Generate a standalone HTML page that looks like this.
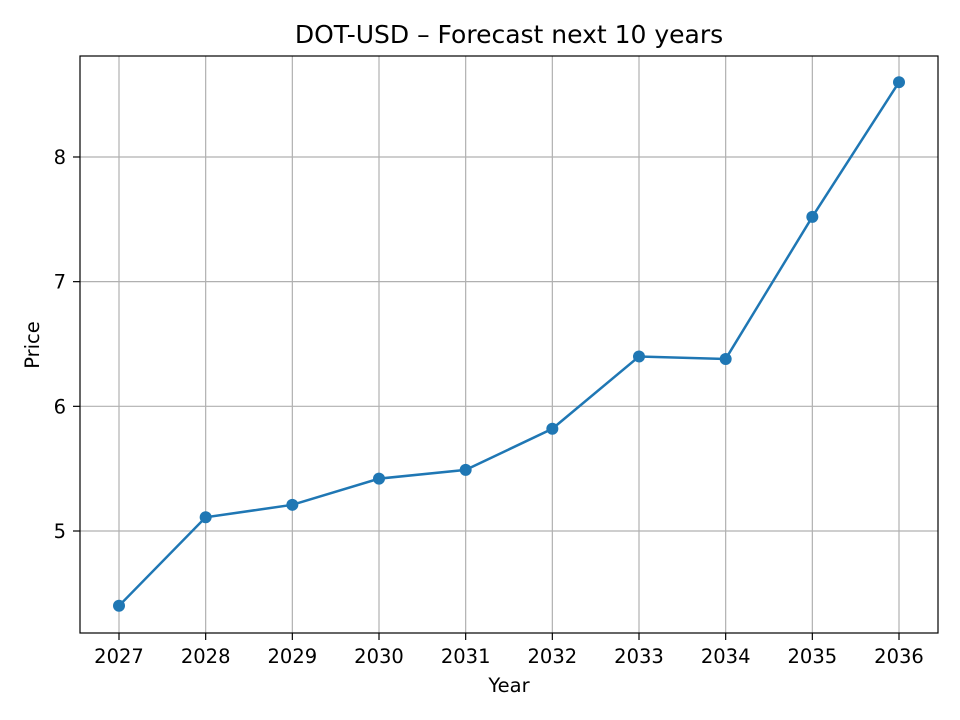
<!DOCTYPE html>
<html><head><meta charset="utf-8"><style>
html,body{margin:0;padding:0;background:#fff;}
svg{display:block;font-family:"DejaVu Sans","Liberation Sans",sans-serif;}
</style></head><body>
<svg id="chart" width="960" height="720" viewBox="0 0 960 720">
<rect x="0" y="0" width="960" height="720" fill="#fff"/>
<text x="509" y="43" text-anchor="middle" font-size="25" fill="#000">DOT-USD – Forecast next 10 years</text>
<g id="grid"></g>
<g id="series"></g>
<rect x="80" y="56" width="858" height="577" fill="none" stroke="#000" stroke-width="1.2"/>
<g id="ticks"></g>
<text x="509" y="692" text-anchor="middle" font-size="19.5">Year</text>
<text x="39" y="345" text-anchor="middle" font-size="19.5" transform="rotate(-90 39 345)">Price</text>
</svg>
<script>
const years = [2027,2028,2029,2030,2031,2032,2033,2034,2035,2036];
const prices = [4.40,5.11,5.21,5.42,5.49,5.82,6.40,6.38,7.52,8.60];
const yTicks = [5,6,7,8];

const NS = "http://www.w3.org/2000/svg";
function xs(yr){ return 119 + (yr-2027)*(780/9); }
function ys(v){ return 531 - (v-5)*124.67; }
function mk(tag, attrs, parent){
  const e = document.createElementNS(NS, tag);
  for (const k in attrs) e.setAttribute(k, attrs[k]);
  parent.appendChild(e); return e;
}
const grid = document.getElementById('grid');
const ticks = document.getElementById('ticks');
const series = document.getElementById('series');

years.forEach(yr=>{
  const x = xs(yr);
  const g = mk('line',{x1:x,x2:x,y1:56,y2:633,stroke:'#b0b0b0','stroke-width':1.2},grid);
  
  
  const t = mk('line',{x1:x,x2:x,y1:633,y2:640,stroke:'#000','stroke-width':1.2},ticks);
  
  
  const l = mk('text',{x:x,y:663,'text-anchor':'middle','font-size':19.5},ticks);
  l.textContent = yr;
  
  
});
yTicks.forEach(v=>{
  const y = ys(v);
  const g = mk('line',{x1:80,x2:938,y1:y,y2:y,stroke:'#b0b0b0','stroke-width':1.2},grid);
  
  
  const t = mk('line',{x1:73,x2:80,y1:y,y2:y,stroke:'#000','stroke-width':1.2},ticks);
  
  
  const l = mk('text',{x:66,y:y+7,'text-anchor':'end','font-size':19.5},ticks);
  l.textContent = v;
  
  
});
const pts = years.map((yr,i)=>xs(yr)+','+ys(prices[i])).join(' ');
const line = mk('polyline',{points:pts,fill:'none',stroke:'#1f77b4','stroke-width':2.5},series);


years.forEach((yr,i)=>{
  const c = mk('circle',{cx:xs(yr),cy:ys(prices[i]),r:6,fill:'#1f77b4'},series);
  
  
});
</script>
</body></html>
